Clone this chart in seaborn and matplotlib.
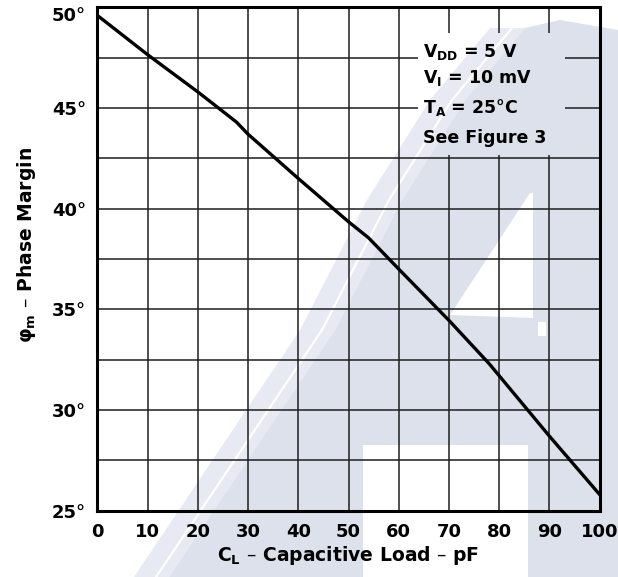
import matplotlib
matplotlib.use("Agg")
import matplotlib.pyplot as plt
import seaborn as sns
import pandas as pd
from matplotlib.patches import Polygon, Rectangle
from matplotlib.ticker import MultipleLocator

# curve (phase margin vs capacitive load)
cap_load_pf = [0, 10, 20, 27.7, 30, 40, 50, 54, 60, 70, 78, 80, 90, 100]
phase_margin_deg = [49.6, 47.65, 45.8, 44.3, 43.7, 41.5, 39.35, 38.55, 37.0, 34.45, 32.3, 31.7, 28.7, 25.8]

x_ticks = [0, 10, 20, 30, 40, 50, 60, 70, 80, 90, 100]
y_ticks = [25, 30, 35, 40, 45, 50]
y_tick_labels = ["25°", "30°", "35°", "40°", "45°", "50°"]
conditions = [r"$V_{DD}$ = 5 V", r"$V_{I}$ = 10 mV", r"$T_{A}$ = 25°C", "See Figure 3"]

df = pd.DataFrame({"cl": cap_load_pf, "pm": phase_margin_deg})

sns.set_theme(style="white")
plt.rcParams["font.family"] = ["DejaVu Sans"]
plt.rcParams["font.weight"] = "bold"
plt.rcParams["mathtext.default"] = "regular"

W, H = 618, 577
fig = plt.figure(figsize=(W / 100, H / 100), dpi=100)
fig.patch.set_facecolor("white")


def px(pts):
    return [(x / W, 1 - y / H) for x, y in pts]


# background watermark, in pixel coords of the page
edge = [(134, 577), (300, 330), (367, 200), (430, 100), (490, 28)]
shift = 35
faint_pts = edge + [(x + shift, y) for x, y in reversed(edge)]
solid_pts = [(x + shift, y) for x, y in edge] + [(560, 20), (618, 30), (618, 577)]
white_pts = [
    [(363, 445), (528, 445), (528, 577), (363, 577)],
    [(450, 315), (530, 193), (533, 193), (533, 318)],
    [(538, 322), (546, 322), (546, 336), (538, 336)],
]


def watermark(add, z, clip=None):
    arts = [Polygon(px(faint_pts), facecolor="#e7eaf2", edgecolor="none"),
            Polygon(px(solid_pts), facecolor="#dde1ec", edgecolor="none"),
            plt.Line2D([(x + 22) / W for x, y in edge], [1 - y / H for x, y in edge],
                       color="white", lw=1.6)]
    arts += [Polygon(px(p), facecolor="white", edgecolor="none") for p in white_pts]
    for a in arts:
        a.set_transform(fig.transFigure)
        a.set_zorder(z)
        add(a)
        if clip is not None:
            a.set_clip_path(clip)


watermark(fig.add_artist, -3)

ax = fig.add_axes([97.3 / W, 1 - 510.7 / H, 502.4 / W, 503.4 / H])
ax.set_facecolor("none")

sns.lineplot(data=df, x="cl", y="pm", color="black", linewidth=2.4, ax=ax, zorder=3)

ax.set_xlim(0, 100)
ax.set_ylim(25, 50)
ax.set_xticks(x_ticks)
ax.set_xticklabels([str(v) for v in x_ticks])
ax.set_yticks(y_ticks)
ax.set_yticklabels(y_tick_labels)
ax.yaxis.set_minor_locator(MultipleLocator(2.5))

ax.set_axisbelow(True)
ax.grid(True, which="both", color="#1e1e1e", linewidth=1.1)
ax.tick_params(axis="both", which="both", length=0, labelsize=13, labelcolor="black")
ax.tick_params(axis="x", pad=9)
ax.tick_params(axis="y", pad=8)
ax.get_yticklabels()[-1].set_va("top")

for s in ax.spines.values():
    s.set_visible(True)
    s.set_color("black")
    s.set_linewidth(2.2)

ax.set_xlabel(r"$C_{L}$ – Capacitive Load – pF", fontsize=13.5, fontweight="bold", color="black")
ax.set_ylabel(r"$φ_{m}$ – Phase Margin", fontsize=13.5, fontweight="bold", color="black")
ax.xaxis.set_label_coords(0.5, -0.066)
ax.yaxis.set_label_coords(-0.118, 0.527)

# test-condition block: grid is cut out behind it, watermark still shows
box = Rectangle((0.638, 0.7066), 0.293, 0.2424, transform=ax.transAxes,
                facecolor="white", edgecolor="none", zorder=1)
ax.add_patch(box)
watermark(ax.add_artist, 1.5, clip=box)

ys = [0.901, 0.850, 0.790, 0.731]
for txt, yy in zip(conditions, ys):
    ax.text(0.648, yy, txt, transform=ax.transAxes, fontsize=12.5, fontweight="bold",
            color="black", va="baseline", ha="left", zorder=4)

fig.savefig("out.png", dpi=100)
